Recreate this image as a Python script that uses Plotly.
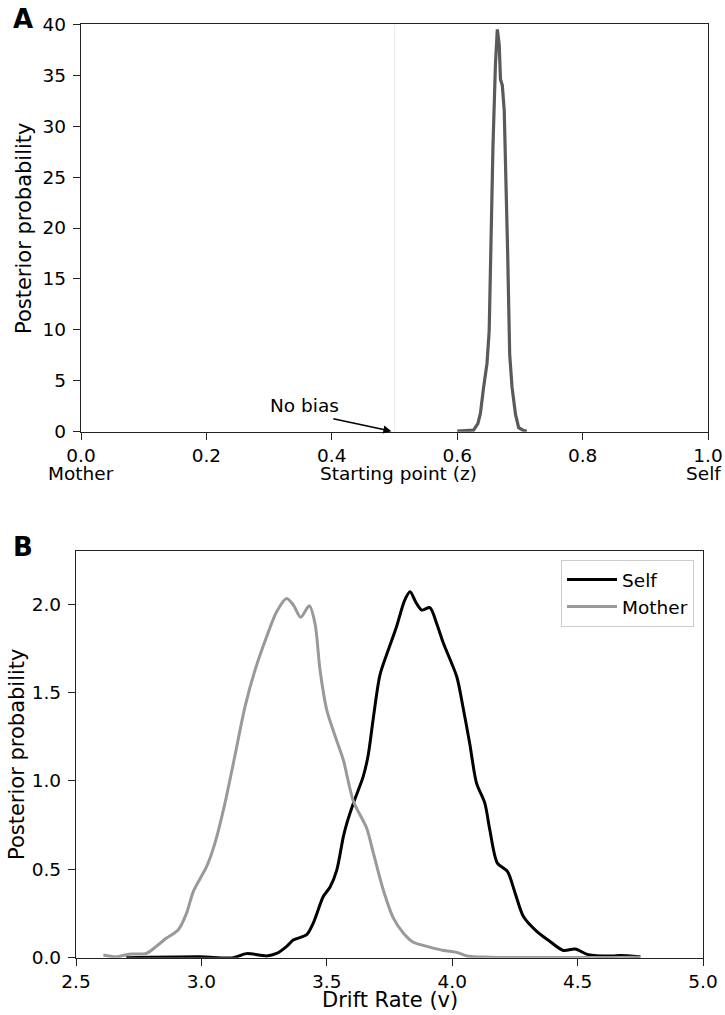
import plotly.graph_objects as go

W, H = 725, 1015

# Panel A: starting point posterior
z_x = [0.600, 0.615, 0.626, 0.633, 0.637, 0.642, 0.6475, 0.651, 0.654, 0.657, 0.661, 0.664,
       0.667, 0.669, 0.672, 0.675, 0.6805, 0.6837, 0.6875, 0.693, 0.698, 0.705, 0.711]
z_y = [0.05, 0.1, 0.15, 0.8, 1.8, 4.3, 6.7, 9.9, 19.1, 27.9, 36.1, 39.5,
       38.0, 34.6, 34.0, 31.5, 17.5, 7.6, 4.35, 1.7, 0.4, 0.15, 0.05]
a_xticks = [0.0, 0.2, 0.4, 0.6, 0.8, 1.0]
a_xticklabels = ["0.0", "0.2", "0.4", "0.6", "0.8", "1.0"]
a_yticks = [0, 5, 10, 15, 20, 25, 30, 35, 40]

# Panel B: drift rates
self_x = [2.70, 2.994, 3.127, 3.18, 3.26, 3.30, 3.34, 3.366, 3.42, 3.446, 3.486, 3.513, 3.54,
          3.566, 3.58, 3.606, 3.645, 3.665, 3.685, 3.712, 3.745, 3.778, 3.81, 3.832, 3.855,
          3.878, 3.911, 3.938, 3.965, 4.018, 4.04, 4.07, 4.097, 4.13, 4.15, 4.18, 4.22, 4.251,
          4.284, 4.337, 4.39, 4.443, 4.49, 4.543, 4.64, 4.67, 4.75]
self_y = [0.0, 0.005, 0.0, 0.023, 0.01, 0.024, 0.064, 0.10, 0.13, 0.196, 0.346, 0.40, 0.497,
          0.685, 0.761, 0.874, 1.024, 1.145, 1.35, 1.60, 1.74, 1.872, 2.02, 2.07, 2.01,
          1.966, 1.98, 1.89, 1.778, 1.59, 1.44, 1.21, 0.987, 0.874, 0.723, 0.535, 0.488, 0.365,
          0.233, 0.149, 0.092, 0.041, 0.049, 0.017, 0.01, 0.013, 0.005]
mother_x = [2.609, 2.66, 2.71, 2.78, 2.82, 2.861, 2.908, 2.941, 2.968, 3.021, 3.054, 3.094,
            3.134, 3.174, 3.214, 3.26, 3.30, 3.34, 3.367, 3.396, 3.43, 3.453, 3.473, 3.50,
            3.539, 3.566, 3.606, 3.659, 3.686, 3.725, 3.765, 3.805, 3.845, 3.91, 3.965, 4.018,
            4.058, 4.15, 4.75]
mother_y = [0.015, 0.005, 0.02, 0.024, 0.064, 0.111, 0.158, 0.252, 0.375, 0.516, 0.648, 0.874,
            1.145, 1.42, 1.627, 1.815, 1.957, 2.032, 1.994, 1.925, 1.99, 1.89, 1.627, 1.40,
            1.23, 1.118, 0.885, 0.732, 0.59, 0.384, 0.225, 0.14, 0.087, 0.06, 0.041, 0.03,
            0.01, 0.003, 0.003]
b_xticks = [2.5, 3.0, 3.5, 4.0, 4.5, 5.0]
b_yticks = [0.0, 0.5, 1.0, 1.5, 2.0]

FONT = "DejaVu Sans"
FS = 18.5
FL = 21

def px_x(p):
    return p / W

def px_y(p):
    return 1 - p / H

fig = go.Figure()
fig.add_trace(go.Scatter(x=z_x, y=z_y, mode="lines", line=dict(color="#5a5a5a", width=3.2),
                         showlegend=False, xaxis="x", yaxis="y"))
fig.add_trace(go.Scatter(x=self_x, y=self_y, mode="lines", name="Self",
                         line=dict(color="black", width=3, shape="spline", smoothing=0.8),
                         xaxis="x2", yaxis="y2"))
fig.add_trace(go.Scatter(x=mother_x, y=mother_y, mode="lines", name="Mother",
                         line=dict(color="#999999", width=3, shape="spline", smoothing=0.8),
                         xaxis="x2", yaxis="y2"))

axis_common = dict(showline=True, linecolor="#222222", linewidth=1.3, mirror=True,
                   ticks="outside", ticklen=7, tickwidth=1.2, tickcolor="#222222",
                   showgrid=False, zeroline=False, automargin=False,
                   tickfont=dict(family=FONT, size=FS, color="black"))

fig.update_layout(
    width=W, height=H,
    margin=dict(l=0, r=0, t=0, b=0),
    paper_bgcolor="white", plot_bgcolor="white",
    font=dict(family=FONT, size=FS, color="black"),
    xaxis=dict(domain=[px_x(81), px_x(708)], range=[0, 1], anchor="y",
               tickvals=a_xticks, ticktext=a_xticklabels, ticklabelstandoff=0, **axis_common),
    yaxis=dict(domain=[px_y(431.7), px_y(24.3)], range=[0, 40], anchor="x",
               tickvals=a_yticks, ticklabelstandoff=3, **axis_common),
    xaxis2=dict(domain=[px_x(76), px_x(703)], range=[2.5, 5.0], anchor="y2",
                tickvals=b_xticks, ticktext=[f"{v:.1f}" for v in b_xticks],
                ticklabelstandoff=0, **axis_common),
    yaxis2=dict(domain=[px_y(957.7), px_y(551)], range=[0, 2.3], anchor="x2",
                tickvals=b_yticks, ticktext=[f"{v:.1f}" for v in b_yticks],
                ticklabelstandoff=3, **axis_common),
    legend=dict(x=px_x(694), y=px_y(560), xanchor="right", yanchor="top",
                bgcolor="white", bordercolor="#cccccc", borderwidth=1, itemwidth=50,
                font=dict(family=FONT, size=FS), tracegroupgap=0),
)

# "No bias" reference line
fig.add_shape(type="line", xref="x", yref="y", x0=0.5, x1=0.5, y0=0, y1=40,
              line=dict(color="#eeeeee", width=1), layer="below")

def txt(text, x, y, size=FS, angle=0):
    return dict(text=text, x=px_x(x), y=px_y(y), xref="paper", yref="paper",
                xanchor="center", yanchor="middle", textangle=angle, showarrow=False,
                font=dict(family=FONT, size=size, color="black"))

annotations = [
    dict(text="No bias", x=0.357, y=2.6, xref="x", yref="y", showarrow=False,
         xanchor="center", yanchor="middle", font=dict(family=FONT, size=FS)),
    dict(text="", x=0.495, y=0.05, ax=0.40, ay=1.3, xref="x", yref="y", axref="x", ayref="y",
         showarrow=True, arrowhead=2, arrowsize=1, arrowwidth=1.6, arrowcolor="black"),
    txt("Mother", 81, 473),
    txt("Starting point (z)", 398, 473),
    txt("Self", 703, 473),
    txt("Drift Rate (v)", 390, 1000, FL),
    txt("Posterior probability", 24, 228, FL, -90),
    txt("Posterior probability", 17, 754, FL, -90),
    txt("<b>A</b>", 23, 19, 26),
    txt("<b>B</b>", 23, 547, 26),
]
fig.update_layout(annotations=annotations)

fig.write_html("out.html", config={"displayModeBar": False},
               post_script="document.body.style.margin='0px';")
